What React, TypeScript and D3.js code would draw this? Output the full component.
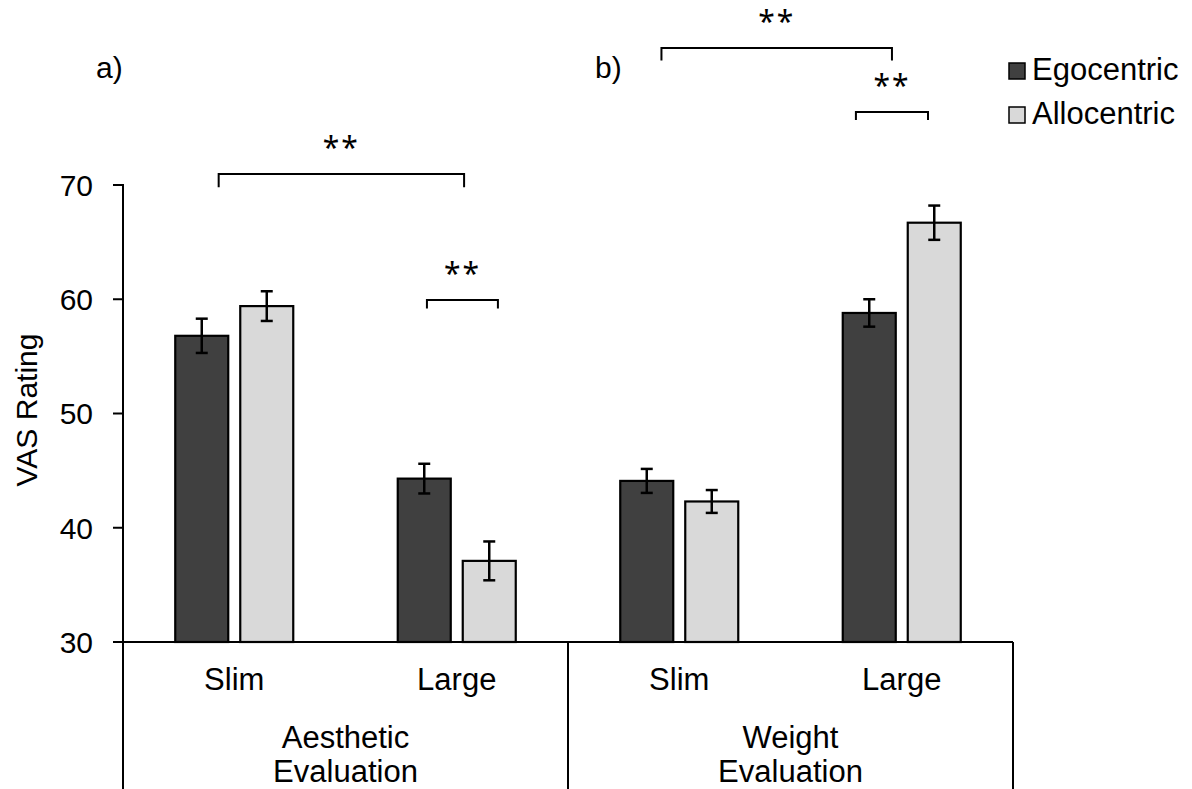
import React from "react";
import * as d3 from "d3";

// Conditions along the x axis, grouped by evaluation type
const categories = ["Aesthetic Slim", "Aesthetic Large", "Weight Slim", "Weight Large"];
const categoryLabels = ["Slim", "Large", "Slim", "Large"];
const groupLabels = [["Aesthetic", "Evaluation"], ["Weight", "Evaluation"]];
const panelLabels = ["a)", "b)"];

const series = ["Egocentric", "Allocentric"];
const egocentricMeans = [56.8, 44.3, 44.1, 58.8];
const allocentricMeans = [59.4, 37.1, 42.3, 66.7];
const egocentricSE = [1.5, 1.3, 1.05, 1.2];
const allocentricSE = [1.3, 1.7, 1.0, 1.5];

const yTicks = [30, 40, 50, 60, 70];

// Significance brackets: x in category units (0..4 across the axis), y in rating units
const bracketFrom = [0.43, 1.366, 2.42, 3.294];
const bracketTo = [1.533, 1.685, 3.456, 3.618];
const bracketTop = [70.96, 59.93, 82.0, 76.4];
const bracketFoot = [69.8, 59.2, 80.9, 75.7];
const bracketText = ["**", "**", "**", "**"];

const W = 1192;
const H = 789;
const left = 123;
const right = 1013;
const baseY = 642;
const topY = 185;

const colors = ["#404040", "#d9d9d9"];
const font = "'Liberation Sans', Arial, sans-serif";

export default function App() {
  const x = d3.scaleBand<string>().domain(categories).range([left, right]).padding(0);
  const step = x.step();
  const catX = d3.scaleLinear().domain([0, 4]).range([left, right]);
  const inner = d3
    .scaleBand<string>()
    .domain(series)
    .range([-59, 59])
    .paddingInner(0.1846)
    .paddingOuter(0);
  const y = d3.scaleLinear().domain([30, 70]).range([baseY, topY]);

  const means = [egocentricMeans, allocentricMeans];
  const errs = [egocentricSE, allocentricSE];

  // panel a) starts just left of the axis, panel b) just right of the group divider
  const panelX = [catX(0) - 27, catX(2) + 27];

  return (
    <svg
      width={W}
      height={H}
      viewBox={`0 0 ${W} ${H}`}
      style={{ position: "absolute", left: 0, top: 0, background: "#fff" }}
    >
      <rect x={0} y={0} width={W} height={H} fill="#fff" />

      {/* bars */}
      {categories.map((c, i) =>
        series.map((s, j) => {
          const cx = (x(c) as number) + step / 2;
          const bx = cx + (inner(s) as number);
          const v = means[j][i];
          return (
            <rect
              key={`${c}-${s}`}
              x={bx}
              y={y(v)}
              width={inner.bandwidth()}
              height={baseY - y(v)}
              fill={colors[j]}
              stroke="#000"
              strokeWidth={2.2}
            />
          );
        })
      )}

      {/* error bars */}
      {categories.map((c, i) =>
        series.map((s, j) => {
          const cx = (x(c) as number) + step / 2 + (inner(s) as number) + inner.bandwidth() / 2;
          const v = means[j][i];
          const e = errs[j][i];
          return (
            <g key={`err-${c}-${s}`} stroke="#000" strokeWidth={2.5}>
              <line x1={cx} x2={cx} y1={y(v + e)} y2={y(v - e)} />
              <line x1={cx - 6} x2={cx + 6} y1={y(v + e)} y2={y(v + e)} />
              <line x1={cx - 6} x2={cx + 6} y1={y(v - e)} y2={y(v - e)} />
            </g>
          );
        })
      )}

      {/* y axis */}
      <line x1={left} x2={left} y1={topY - 1} y2={H} stroke="#000" strokeWidth={2} />
      {yTicks.map((t) => (
        <g key={t}>
          <line x1={left - 10} x2={left} y1={y(t)} y2={y(t)} stroke="#000" strokeWidth={2} />
          <text
            x={93}
            y={y(t)}
            dy="0.36em"
            textAnchor="end"
            fontFamily={font}
            fontSize={30}
            fill="#000"
          >
            {t}
          </text>
        </g>
      ))}
      <text
        transform={`translate(37, 410) rotate(-90)`}
        textAnchor="middle"
        fontFamily={font}
        fontSize={30}
        fill="#000"
      >
        VAS Rating
      </text>

      {/* x axis with grouped category boxes */}
      <line x1={left} x2={right} y1={baseY} y2={baseY} stroke="#000" strokeWidth={2} />
      <line x1={catX(2)} x2={catX(2)} y1={baseY} y2={H} stroke="#000" strokeWidth={2} />
      <line x1={right} x2={right} y1={baseY} y2={H} stroke="#000" strokeWidth={2} />
      {categories.map((c, i) => (
        <text
          key={`cl-${c}`}
          x={(x(c) as number) + step / 2}
          y={690}
          textAnchor="middle"
          fontFamily={font}
          fontSize={31}
          fill="#000"
        >
          {categoryLabels[i]}
        </text>
      ))}
      {groupLabels.map((g, k) => (
        <text
          key={`gl-${k}`}
          x={catX(2 * k + 1)}
          textAnchor="middle"
          fontFamily={font}
          fontSize={31}
          fill="#000"
        >
          <tspan x={catX(2 * k + 1)} y={748}>
            {g[0]}
          </tspan>
          <tspan x={catX(2 * k + 1)} y={782}>
            {g[1]}
          </tspan>
        </text>
      ))}

      {/* panel labels */}
      {panelLabels.map((p, k) => (
        <text
          key={p}
          x={panelX[k]}
          y={78}
          fontFamily={font}
          fontSize={30}
          fill="#000"
        >
          {p}
        </text>
      ))}

      {/* significance brackets */}
      {bracketFrom.map((f, k) => {
        const x1 = catX(f);
        const x2 = catX(bracketTo[k]);
        const yt = y(bracketTop[k]);
        const yb = y(bracketFoot[k]);
        return (
          <g key={`br-${k}`}>
            <path
              d={`M${x1},${yb}V${yt}H${x2}V${yb}`}
              fill="none"
              stroke="#000"
              strokeWidth={2}
            />
            <text
              x={(x1 + x2) / 2}
              y={yt - 16}
              textAnchor="middle"
              fontFamily="'Noto Sans', 'DejaVu Sans', sans-serif"
              fontSize={30}
              letterSpacing={2}
              fill="#000"
            >
              {bracketText[k]}
            </text>
          </g>
        );
      })}

      {/* legend */}
      {series.map((s, j) => (
        <g key={`lg-${s}`}>
          <rect
            x={1009}
            y={63 + j * 44}
            width={16}
            height={16}
            fill={colors[j]}
            stroke="#000"
            strokeWidth={1.5}
          />
          <text x={1032} y={80 + j * 44} fontFamily={font} fontSize={31} fill="#000">
            {s}
          </text>
        </g>
      ))}
    </svg>
  );
}
